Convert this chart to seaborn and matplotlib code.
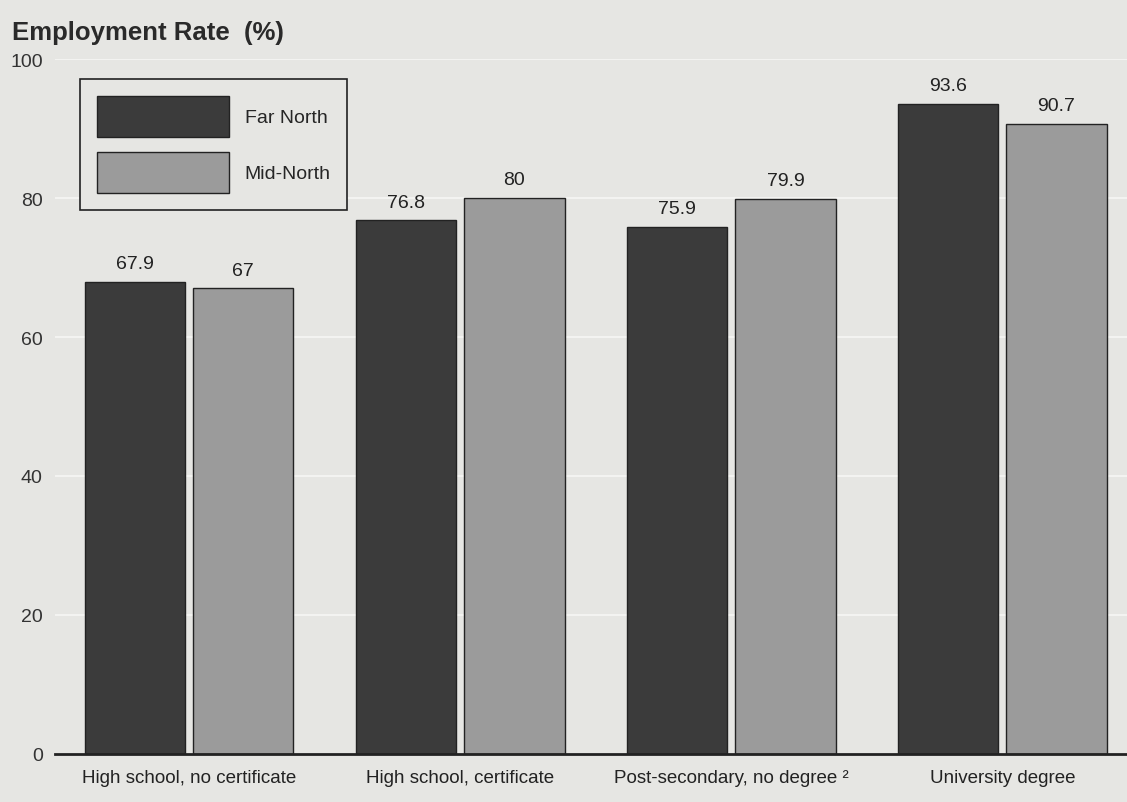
import matplotlib
matplotlib.use('Agg')
import matplotlib.pyplot as plt
import seaborn as sns
import pandas as pd

categories = ['High school, no certificate', 'High school, certificate',
              'Post-secondary, no degree \u00b2', 'University degree']
far_north = [67.9, 76.8, 75.9, 93.6]
mid_north = [67, 80, 79.9, 90.7]
value_labels_far = ['67.9', '76.8', '75.9', '93.6']
value_labels_mid = ['67', '80', '79.9', '90.7']
y_ticks = [0, 20, 40, 60, 80, 100]

sns.set_theme(style="white")
plt.rcParams['font.family'] = ['Liberation Sans Narrow', 'Liberation Sans', 'DejaVu Sans']

bg = '#e6e6e3'
df = pd.DataFrame({
    'category': categories * 2,
    'rate': far_north + mid_north,
    'region': ['Far North'] * 4 + ['Mid-North'] * 4,
})

fig = plt.figure(figsize=(11.27, 8.03), dpi=100, facecolor=bg)
ax = fig.add_axes([0.049, 0.060, 0.951, 0.865])
ax.set_facecolor(bg)

sns.barplot(data=df, x='category', y='rate', hue='region',
            palette=['#3b3b3b', '#9b9b9b'], width=0.8, gap=0.075,
            edgecolor='#222222', linewidth=1.0, ax=ax)

# value labels
for cont, labels in zip(ax.containers, [value_labels_far, value_labels_mid]):
    ax.bar_label(cont, labels=labels, padding=7, fontsize=14, color='#222222')

ax.set_ylim(0, 100)
ax.set_xlim(-0.494, 3.46)
ax.set_yticks(y_ticks)
ax.set_yticklabels([str(t) for t in y_ticks], fontsize=14, color='#333333')
ax.tick_params(axis='y', length=0, pad=9)
ax.tick_params(axis='x', length=0, pad=11, labelsize=13.5, labelcolor='#222222')
ax.yaxis.grid(True, color='#f3f3f1', linewidth=1.5)
ax.set_axisbelow(True)
ax.set_xlabel('')
ax.set_ylabel('')

for side in ['top', 'right', 'left']:
    ax.spines[side].set_visible(False)
ax.spines['bottom'].set_color('#222222')
ax.spines['bottom'].set_linewidth(2)

leg = ax.legend(loc='upper left', bbox_to_anchor=(0.0233, 0.971), borderaxespad=0,
                title=None, fontsize=14, handlelength=6.8, handleheight=2.9,
                labelspacing=0.75, borderpad=0.85, handletextpad=0.8,
                fancybox=False, frameon=True)
leg.get_frame().set_edgecolor('#222222')
leg.get_frame().set_facecolor(bg)
leg.get_frame().set_linewidth(1.2)
leg.get_frame().set_alpha(1)

fig.text(0.011, 0.944, 'Employment Rate  (%)', fontsize=18.5, fontweight='bold',
         color='#2a2a2a', ha='left', va='bottom')

fig.savefig('out.png', dpi=100, facecolor=bg)
